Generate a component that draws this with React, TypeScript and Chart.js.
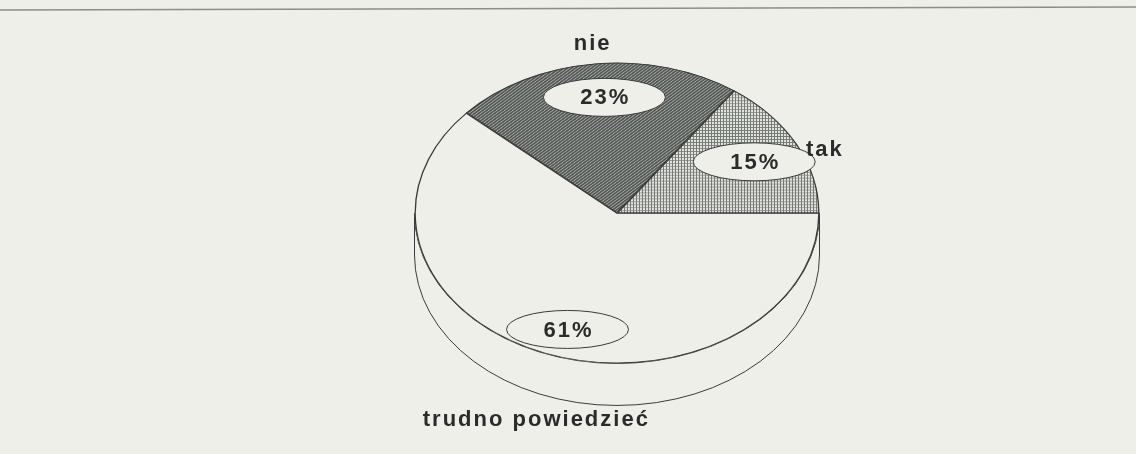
import React, { useEffect, useRef } from "react";
import { Chart, registerables } from "chart.js";

Chart.register(...registerables);

const categories = ["trudno powiedzieć", "nie", "tak"];
const values = [61, 23, 15];
const percentLabels = ["61%", "23%", "15%"];

const PAPER = "#efefe9";
const INK = "#3a3a3a";
const SQUASH = 0.743;
const CENTER_Y = 213;
const DEPTH = 42;

function makeStripe(): CanvasPattern | string {
  const c = document.createElement("canvas");
  c.width = 4;
  c.height = 4;
  const g = c.getContext("2d")!;
  g.fillStyle = "#adb1ad";
  g.fillRect(0, 0, 4, 4);
  g.strokeStyle = "#484c48";
  g.lineWidth = 1.6;
  g.beginPath();
  g.moveTo(-1, 5);
  g.lineTo(5, -1);
  g.moveTo(-1, 1);
  g.lineTo(1, -1);
  g.moveTo(3, 5);
  g.lineTo(5, 3);
  g.stroke();
  return g.createPattern(c, "repeat") || "#777";
}

function makeGrid(): CanvasPattern | string {
  const c = document.createElement("canvas");
  c.width = 3;
  c.height = 4;
  const g = c.getContext("2d")!;
  g.fillStyle = "#e2e4e0";
  g.fillRect(0, 0, 3, 4);
  g.fillStyle = "#767a75";
  g.fillRect(0, 0, 1, 4);
  g.fillRect(0, 0, 3, 1);
  return g.createPattern(c, "repeat") || "#aaa";
}

const pie3d = {
  id: "pie3d",
  beforeDraw(chart: any) {
    const ctx = chart.ctx;
    ctx.save();
    ctx.strokeStyle = "#8c8c88";
    ctx.lineWidth = 1.5;
    ctx.beginPath();
    ctx.moveTo(0, 10);
    ctx.lineTo(1136, 7);
    ctx.stroke();
    ctx.restore();
  },
  beforeDatasetsDraw(chart: any) {
    const ctx = chart.ctx;
    const arc = chart.getDatasetMeta(0).data[0];
    if (!arc) return;
    const cx = arc.x;
    const rx = arc.outerRadius;
    const ry = rx * SQUASH;
    const cy = CENTER_Y;
    ctx.save();
    ctx.beginPath();
    ctx.moveTo(cx + rx, cy);
    ctx.lineTo(cx + rx, cy + DEPTH);
    ctx.ellipse(cx, cy + DEPTH, rx, ry, 0, 0, Math.PI, false);
    ctx.lineTo(cx - rx, cy);
    ctx.ellipse(cx, cy, rx, ry, 0, Math.PI, 0, true);
    ctx.closePath();
    ctx.fillStyle = PAPER;
    ctx.fill();
    ctx.strokeStyle = INK;
    ctx.lineWidth = 1;
    ctx.stroke();
    ctx.restore();

    ctx.save();
    ctx.translate(cx, cy);
    ctx.scale(1, SQUASH);
    ctx.translate(-cx, -arc.y);
  },
  afterDatasetsDraw(chart: any) {
    const ctx = chart.ctx;
    ctx.restore();
    const meta = chart.getDatasetMeta(0);
    const font = 'bold 22px "Liberation Sans", Arial, sans-serif';
    meta.data.forEach((arc: any, i: number) => {
      const cx = arc.x;
      const rx = arc.outerRadius;
      const ry = rx * SQUASH;
      const mid = (arc.startAngle + arc.endAngle) / 2;
      const c = Math.cos(mid);
      const s = Math.sin(mid);
      const ix = cx + c * rx * 0.74 + 4;
      const iy = CENTER_Y + s * ry * 0.8 + 4;
      ctx.save();
      ctx.beginPath();
      ctx.ellipse(ix, iy, 61, 19, 0, 0, Math.PI * 2);
      ctx.fillStyle = PAPER;
      ctx.fill();
      ctx.strokeStyle = INK;
      ctx.lineWidth = 1;
      ctx.stroke();
      ctx.fillStyle = "#2b2b2b";
      ctx.font = font;
      (ctx as any).letterSpacing = "2px";
      ctx.textAlign = "center";
      ctx.textBaseline = "middle";
      ctx.fillText(percentLabels[i], ix + 1, iy + 1);
      if (c > 0.5) {
        ctx.textAlign = "left";
        const ox = cx + c * rx * 1.05;
        const oy = CENTER_Y + s * ry * 1.13 + 15;
        ctx.fillText(categories[i], ox, oy);
      } else {
        const ox = cx + c * rx * 1.13;
        const oy = CENTER_Y + s * ry * 1.13 + (s > 0 ? DEPTH + 6 : 0);
        ctx.fillText(categories[i], ox + 1, oy);
      }
      ctx.restore();
    });
  },
};

export default function App() {
  const ref = useRef<HTMLCanvasElement | null>(null);
  useEffect(() => {
    if (!ref.current) return;
    const chart = new Chart(ref.current, {
      type: "pie",
      data: {
        labels: categories,
        datasets: [
          {
            data: values,
            backgroundColor: [PAPER, makeStripe(), makeGrid()],
            borderColor: INK,
            borderWidth: 1,
            borderAlign: "inner",
          },
        ],
      },
      options: {
        animation: false,
        responsive: true,
        maintainAspectRatio: false,
        rotation: 90,
        layout: { padding: { left: 98, right: 0, top: 25, bottom: 24 } },
        plugins: {
          legend: { display: false },
          tooltip: { enabled: false },
        },
      },
      plugins: [pie3d],
    });
    return () => chart.destroy();
  }, []);
  return (
    <div
      style={{
        position: "fixed",
        left: 0,
        top: 0,
        width: 1136,
        height: 454,
        background: PAPER,
      }}
    >
      <canvas ref={ref} />
    </div>
  );
}
